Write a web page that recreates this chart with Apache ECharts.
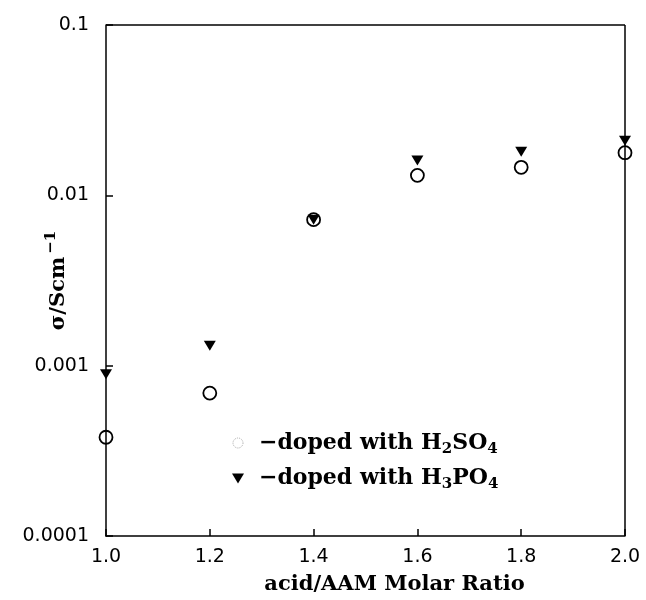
<!DOCTYPE html>
<html>
<head>
<meta charset="utf-8">
<script src="https://cdn.jsdelivr.net/npm/echarts@6/dist/echarts.min.js"></script>
<style>
html,body{margin:0;padding:0;background:#fff;}
#chart{width:646px;height:600px;}
</style>
</head>
<body>
<div id="chart"></div>
<script>
// molar ratio of acid to AAM
var ratios = [1.0, 1.2, 1.4, 1.6, 1.8, 2.0];
// conductivity, S/cm
var h2so4 = [0.00038, 0.00069, 0.0072, 0.0131, 0.0146, 0.0178];
var h3po4 = [0.00089, 0.00131, 0.0072, 0.0160, 0.0180, 0.0209];
var yTickLabels = ['0.0001', '0.001', '0.01', '0.1'];
var xTickLabels = ['1.0', '1.2', '1.4', '1.6', '1.8', '2.0'];

var tri = 'path://M0,0 L12,0 L6,10 Z';
var serif = '"DejaVu Serif", serif';
var sans = '"DejaVu Sans", sans-serif';

function pairs(xs, ys){
	var out = [];
	for (var i = 0; i < xs.length; i++) out.push([xs[i], ys[i]]);
	return out;
}

var chart = echarts.init(document.getElementById('chart'));

var option = {
	backgroundColor: '#ffffff',
	animation: false,
	grid: {left: 106, right: 21, top: 25, bottom: 60},
	legend: {
		orient: 'vertical',
		left: 227,
		top: 427,
		itemWidth: 12,
		itemHeight: 10,
		itemGap: 11,
		data: [
			{name: 'H2SO4', icon: 'circle', itemStyle: {color: 'transparent', borderColor: '#aaa', borderWidth: 1, borderType: 'dotted'}},
			{name: 'H3PO4', icon: tri}
		],
		formatter: function(name){
			if (name == 'H2SO4') return '{f|\u2212doped with H}{s|2}{t|SO}{s|4}';
			return '{f|\u2212doped with H}{s|3}{t|PO}{s|4}';
		},
		textStyle: {
			rich: {
				f: {fontFamily: serif, fontWeight: 'bold', fontSize: 22, color: '#000', padding: [0, 0, 0, 10]},
				t: {fontFamily: serif, fontWeight: 'bold', fontSize: 22, color: '#000'},
				s: {fontFamily: serif, fontWeight: 'bold', fontSize: 15, color: '#000', verticalAlign: 'bottom', padding: [12, 0, 0, 0]}
			}
		}
	},
	xAxis: {
		type: 'value',
		min: 1.0,
		max: 2.0,
		interval: 0.2,
		name: 'acid/AAM Molar Ratio',
		nameLocation: 'middle',
		nameGap: 38,
		nameMoveOverlap: false,
		nameTextStyle: {fontFamily: serif, fontWeight: 'bold', fontSize: 21, color: '#000', verticalAlign: 'top', padding: [0, 0, 0, 58]},
		axisLine: {onZero: false, lineStyle: {color: '#000', width: 1.5}},
		axisTick: {inside: true, length: 7, lineStyle: {color: '#000', width: 1.5}},
		axisLabel: {
			margin: 12,
			fontFamily: sans,
			fontSize: 19,
			color: '#000',
			formatter: function(v){ return xTickLabels[Math.round((v - 1) / 0.2)]; }
		},
		splitLine: {show: false}
	},
	yAxis: {
		type: 'log',
		logBase: 10,
		min: 0.0001,
		max: 0.1,
		name: '{t|\u03c3/Scm}{u|\u22121}',
		nameLocation: 'middle',
		nameGap: 33,
		nameMoveOverlap: false,
		nameTextStyle: {
			rich: {
				t: {fontFamily: serif, fontWeight: 'bold', fontSize: 21, color: '#000'},
				u: {fontFamily: serif, fontWeight: 'bold', fontSize: 15, color: '#000', verticalAlign: 'top', padding: [0, 0, 14, 3]}
			}
		},
		axisLine: {lineStyle: {color: '#000', width: 1.5}},
		axisTick: {inside: true, length: 7, lineStyle: {color: '#000', width: 1.5}},
		minorTick: {show: false},
		axisLabel: {
			margin: 17,
			fontFamily: sans,
			fontSize: 19,
			color: '#000',
			formatter: function(v){ return yTickLabels[Math.round(Math.log10(v)) + 4]; }
		},
		splitLine: {show: false}
	},
	series: [
		{
			name: 'H2SO4',
			type: 'scatter',
			symbol: 'circle',
			symbolSize: 13,
			itemStyle: {color: 'transparent', borderColor: '#000', borderWidth: 1.8, opacity: 1},
			data: pairs(ratios, h2so4),
			z: 2
		},
		{
			name: 'H3PO4',
			type: 'scatter',
			symbol: tri,
			symbolSize: [12, 10],
			itemStyle: {color: '#000', opacity: 1},
			data: pairs(ratios, h3po4),
			z: 3
		},
		// frame: top and right borders
		{
			type: 'line',
			silent: true,
			symbol: 'none',
			data: [],
			markLine: {
				silent: true,
				symbol: 'none',
				label: {show: false},
				lineStyle: {color: '#000', width: 1.5, type: 'solid'},
				data: [
					[{coord: [1.0, 0.1]}, {coord: [2.0, 0.1]}],
					[{coord: [2.0, 0.1]}, {coord: [2.0, 0.0001]}]
				]
			}
		}
	]
};

chart.setOption(option);
</script>
</body>
</html>
